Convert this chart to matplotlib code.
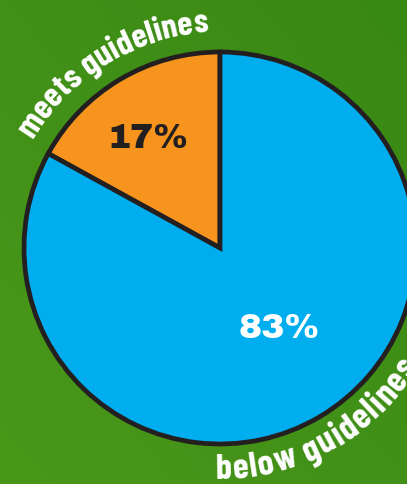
import numpy as np
import matplotlib
matplotlib.use('Agg')
import matplotlib.pyplot as plt
from matplotlib.font_manager import FontProperties, findfont, get_font

categories = ["meets guidelines", "below guidelines"]
values = [17, 83]
pct_labels = ["17%", "83%"]
colors = ["#f7941d", "#00adef"]

W, H = 407, 484
DPI = 100
fig = plt.figure(figsize=(W / DPI, H / DPI), dpi=DPI)
ax = fig.add_axes([0, 0, 1, 1])

# background gradient (lighter bottom-left, darker top-right)
yy, xx = np.mgrid[0:1:200j, 0:1:200j]
t = 0.5 * xx + 0.5 * yy
c0 = np.array([74, 152, 26]) / 255
c1 = np.array([56, 136, 20]) / 255
img = c0 + (c1 - c0) * t[..., None]
ax.imshow(img, extent=[0, W, 0, H], origin='lower', aspect='auto', zorder=0)

cx, cy, R = 220, H - 248, 196
wedges, _ = ax.pie(values, colors=colors, startangle=90, counterclock=True,
                   center=(cx, cy), radius=R, frame=True,
                   wedgeprops=dict(edgecolor='#231f20', linewidth=3.4, zorder=2))
ax.set_xlim(0, W)
ax.set_ylim(0, H)
ax.set_aspect('equal')
ax.axis('off')

# percentage labels
pfp = FontProperties(family=['Archivo Black', 'DejaVu Sans'], weight='black')
ax.text(148, H - 139, pct_labels[0], ha='center', va='center', fontsize=25,
        fontproperties=pfp, color='#231f20', zorder=5)
ax.text(279, H - 328, pct_labels[1], ha='center', va='center', fontsize=25,
        fontproperties=pfp, color='white', zorder=5)

# curved labels
fp = FontProperties(family=['Barlow Condensed', 'DejaVu Sans'], weight='bold')


def char_advances(s, prop, size):
    font = get_font(findfont(prop))
    font.set_size(size, DPI)
    out = []
    for ch in s:
        g = font.load_char(ord(ch))
        out.append(g.linearHoriAdvance / 65536)
    return out


def arc_text(s, r, theta_deg, clockwise, fs, anchor='center', track=0.0):
    adv = [a + track for a in char_advances(s, fp, fs)]
    total = sum(adv)
    th0 = np.radians(theta_deg)
    d = -1 if clockwise else 1
    if anchor == 'center':
        start = th0 - d * total / 2 / r
    else:
        start = th0
    pos = 0.0
    for ch, a in zip(s, adv):
        th = start + d * (pos + a / 2) / r
        x = cx + r * np.cos(th)
        y = cy + r * np.sin(th)
        rot = np.degrees(th) - 90 if clockwise else np.degrees(th) + 90
        ax.text(x, y, ch, rotation=rot, rotation_mode='anchor', ha='center',
                va='baseline', fontproperties=fp, fontsize=fs, color='white',
                zorder=6)
        pos += a


arc_text(categories[0], 216, 121.5, clockwise=True, fs=25)
arc_text(categories[1], 231, 268.8, clockwise=False, fs=26, anchor='start',
         track=1.6)

fig.savefig('out.png', dpi=DPI)
